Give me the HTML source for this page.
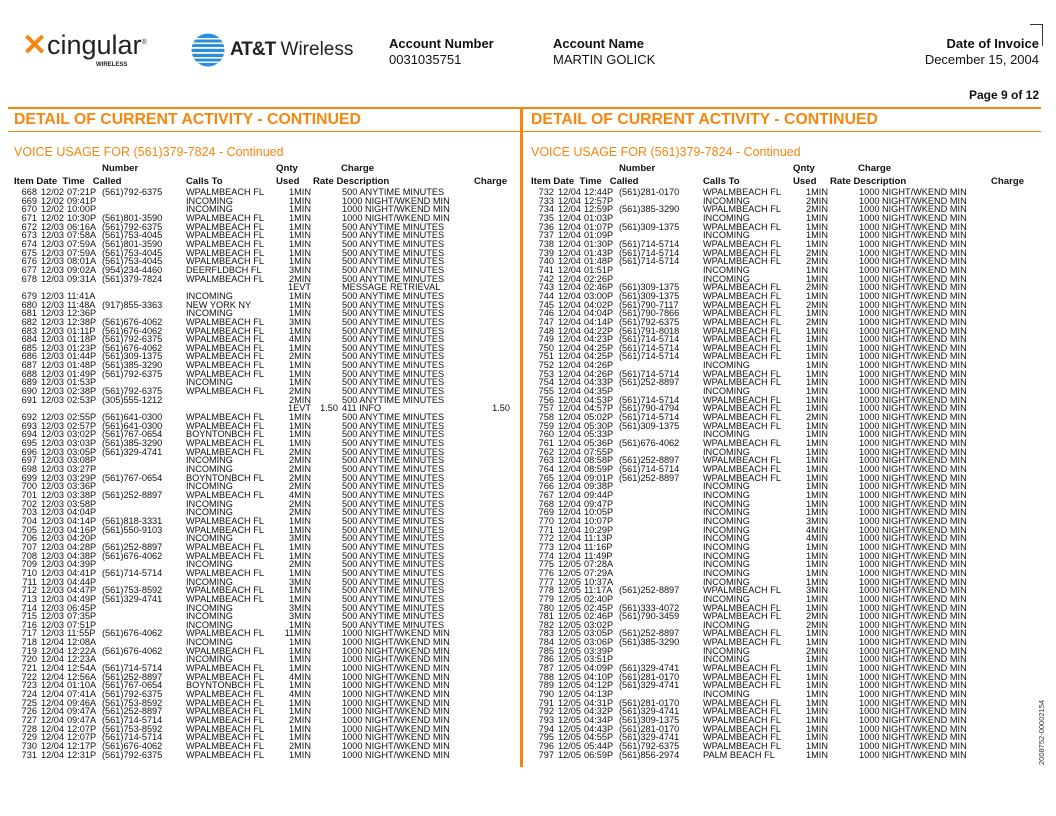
<!DOCTYPE html>
<html><head><meta charset="utf-8"><style>
*{margin:0;padding:0}
body{width:1056px;height:816px;background:#fff;position:relative;overflow:hidden;font-family:"Liberation Sans",sans-serif;color:#111}
.ab{position:absolute;white-space:nowrap}
.col{position:absolute;top:188px;width:515px}
.r{position:relative;height:8.66px;line-height:8.66px;font-size:9.2px;white-space:nowrap}
.r span{position:absolute;top:0}
.a{left:0;width:37px;text-align:right}
.d{left:41px}.t{left:67px}.n{left:102px}.c{left:186px}
.q{left:265px;width:46px;text-align:right}
.x{left:300px;width:38px;text-align:right}
.e{left:342px}
.g{left:460px;width:50px;text-align:right}
.h{position:absolute;font-weight:bold;font-size:9.6px;white-space:nowrap}
.or{color:#f7860e}
</style></head><body>
<div class="ab" style="left:22px;top:28px;font-size:30px;color:#f7860e;font-weight:bold">✕</div>
<div class="ab" style="left:47px;top:30px;font-size:27px;color:#222">cingular<sup style="font-size:7px">®</sup></div>
<div class="ab" style="left:96px;top:62px;font-size:6px;font-weight:bold;color:#222">WIRELESS</div>
<svg class="ab" style="left:191px;top:33px" width="34" height="34" viewBox="0 0 34 34">
<circle cx="17" cy="17" r="16.5" fill="#2a8ee0"/>
<g fill="#fff"><rect x="0" y="5" width="34" height="1.5"/><rect x="0" y="9.5" width="34" height="1.6"/><rect x="0" y="14" width="34" height="1.8"/><rect x="0" y="19" width="34" height="1.8"/><rect x="0" y="24" width="34" height="1.6"/><rect x="0" y="28.5" width="34" height="1.4"/></g></svg>
<div class="ab" style="left:230px;top:39px;font-size:19px;color:#222"><b style="letter-spacing:-1px">AT&amp;T</b> Wireless</div>
<div class="ab" style="left:389px;top:36px;font-size:13px;font-weight:bold">Account Number</div>
<div class="ab" style="left:389px;top:52px;font-size:13px">0031035751</div>
<div class="ab" style="left:553px;top:36px;font-size:13px;font-weight:bold">Account Name</div>
<div class="ab" style="left:553px;top:52px;font-size:13px">MARTIN GOLICK</div>
<div class="ab" style="right:17px;top:36px;font-size:13px;font-weight:bold;text-align:right">Date of Invoice</div>
<div class="ab" style="right:17px;top:52px;font-size:13px;text-align:right">December 15, 2004</div>
<div class="ab" style="left:1030px;top:24px;width:12px;height:1px;background:#333"></div>
<div class="ab" style="left:1042px;top:24px;width:1px;height:22px;background:#333"></div>
<div class="ab" style="right:17px;top:88px;font-size:12px;font-weight:bold">Page 9 of 12</div>
<div class="ab" style="left:8px;top:107px;width:1033px;height:2px;background:#f7860e"></div>
<div class="ab" style="left:8px;top:131px;width:1033px;height:1px;background:#f7860e"></div>
<div class="ab" style="left:520px;top:107px;width:3px;height:660px;background:#f7860e"></div>
<div class="ab or" style="left:14px;top:111px;font-size:15.8px;font-weight:bold">DETAIL OF CURRENT ACTIVITY - CONTINUED</div>
<div class="ab or" style="left:531px;top:111px;font-size:15.8px;font-weight:bold">DETAIL OF CURRENT ACTIVITY - CONTINUED</div>
<div class="ab or" style="left:14px;top:145px;font-size:12.5px">VOICE USAGE FOR (561)379-7824 - Continued</div>
<div class="ab or" style="left:531px;top:145px;font-size:12.5px">VOICE USAGE FOR (561)379-7824 - Continued</div>
<div class="ab" style="left:1037px;top:765px;font-size:7.5px;transform:rotate(-90deg);transform-origin:0 0;color:#333">2008752-00002154</div>

<div class="ab" style="left:0;top:163px;width:520px;height:30px">
<div class="h" style="left:102px;top:0">Number</div><div class="h" style="left:276px;top:0">Qnty</div><div class="h" style="left:341px;top:0">Charge</div>
<div class="h" style="left:14px;top:13px">Item Date&nbsp; Time&nbsp;&nbsp; Called</div><div class="h" style="left:186px;top:13px">Calls To</div><div class="h" style="left:276px;top:13px">Used</div><div class="h" style="left:313px;top:13px">Rate Description</div><div class="h" style="left:474px;top:13px">Charge</div>
</div>
<div class="ab" style="left:517px;top:163px;width:520px;height:30px">
<div class="h" style="left:102px;top:0">Number</div><div class="h" style="left:276px;top:0">Qnty</div><div class="h" style="left:341px;top:0">Charge</div>
<div class="h" style="left:14px;top:13px">Item Date&nbsp; Time&nbsp;&nbsp; Called</div><div class="h" style="left:186px;top:13px">Calls To</div><div class="h" style="left:276px;top:13px">Used</div><div class="h" style="left:313px;top:13px">Rate Description</div><div class="h" style="left:474px;top:13px">Charge</div>
</div>

<div class="col" style="left:0">
<div class="r"><span class="a">668</span><span class="d">12/02</span><span class="t">07:21P</span><span class="n">(561)792-6375</span><span class="c">WPALMBEACH FL</span><span class="q">1MIN</span><span class="e">500 ANYTIME MINUTES</span></div>
<div class="r"><span class="a">669</span><span class="d">12/02</span><span class="t">09:41P</span><span class="c">INCOMING</span><span class="q">1MIN</span><span class="e">1000 NIGHT/WKEND MIN</span></div>
<div class="r"><span class="a">670</span><span class="d">12/02</span><span class="t">10:00P</span><span class="c">INCOMING</span><span class="q">1MIN</span><span class="e">1000 NIGHT/WKEND MIN</span></div>
<div class="r"><span class="a">671</span><span class="d">12/02</span><span class="t">10:30P</span><span class="n">(561)801-3590</span><span class="c">WPALMBEACH FL</span><span class="q">1MIN</span><span class="e">1000 NIGHT/WKEND MIN</span></div>
<div class="r"><span class="a">672</span><span class="d">12/03</span><span class="t">06:16A</span><span class="n">(561)792-6375</span><span class="c">WPALMBEACH FL</span><span class="q">1MIN</span><span class="e">500 ANYTIME MINUTES</span></div>
<div class="r"><span class="a">673</span><span class="d">12/03</span><span class="t">07:58A</span><span class="n">(561)753-4045</span><span class="c">WPALMBEACH FL</span><span class="q">1MIN</span><span class="e">500 ANYTIME MINUTES</span></div>
<div class="r"><span class="a">674</span><span class="d">12/03</span><span class="t">07:59A</span><span class="n">(561)801-3590</span><span class="c">WPALMBEACH FL</span><span class="q">1MIN</span><span class="e">500 ANYTIME MINUTES</span></div>
<div class="r"><span class="a">675</span><span class="d">12/03</span><span class="t">07:59A</span><span class="n">(561)753-4045</span><span class="c">WPALMBEACH FL</span><span class="q">1MIN</span><span class="e">500 ANYTIME MINUTES</span></div>
<div class="r"><span class="a">676</span><span class="d">12/03</span><span class="t">08:01A</span><span class="n">(561)753-4045</span><span class="c">WPALMBEACH FL</span><span class="q">1MIN</span><span class="e">500 ANYTIME MINUTES</span></div>
<div class="r"><span class="a">677</span><span class="d">12/03</span><span class="t">09:02A</span><span class="n">(954)234-4460</span><span class="c">DEERFLDBCH FL</span><span class="q">3MIN</span><span class="e">500 ANYTIME MINUTES</span></div>
<div class="r"><span class="a">678</span><span class="d">12/03</span><span class="t">09:31A</span><span class="n">(561)379-7824</span><span class="c">WPALMBEACH FL</span><span class="q">2MIN</span><span class="e">500 ANYTIME MINUTES</span></div>
<div class="r"><span class="q">1EVT</span><span class="e">MESSAGE RETRIEVAL</span></div>
<div class="r"><span class="a">679</span><span class="d">12/03</span><span class="t">11:41A</span><span class="c">INCOMING</span><span class="q">1MIN</span><span class="e">500 ANYTIME MINUTES</span></div>
<div class="r"><span class="a">680</span><span class="d">12/03</span><span class="t">11:48A</span><span class="n">(917)855-3363</span><span class="c">NEW YORK NY</span><span class="q">1MIN</span><span class="e">500 ANYTIME MINUTES</span></div>
<div class="r"><span class="a">681</span><span class="d">12/03</span><span class="t">12:36P</span><span class="c">INCOMING</span><span class="q">1MIN</span><span class="e">500 ANYTIME MINUTES</span></div>
<div class="r"><span class="a">682</span><span class="d">12/03</span><span class="t">12:38P</span><span class="n">(561)676-4062</span><span class="c">WPALMBEACH FL</span><span class="q">3MIN</span><span class="e">500 ANYTIME MINUTES</span></div>
<div class="r"><span class="a">683</span><span class="d">12/03</span><span class="t">01:11P</span><span class="n">(561)676-4062</span><span class="c">WPALMBEACH FL</span><span class="q">1MIN</span><span class="e">500 ANYTIME MINUTES</span></div>
<div class="r"><span class="a">684</span><span class="d">12/03</span><span class="t">01:18P</span><span class="n">(561)792-6375</span><span class="c">WPALMBEACH FL</span><span class="q">4MIN</span><span class="e">500 ANYTIME MINUTES</span></div>
<div class="r"><span class="a">685</span><span class="d">12/03</span><span class="t">01:23P</span><span class="n">(561)676-4062</span><span class="c">WPALMBEACH FL</span><span class="q">1MIN</span><span class="e">500 ANYTIME MINUTES</span></div>
<div class="r"><span class="a">686</span><span class="d">12/03</span><span class="t">01:44P</span><span class="n">(561)309-1375</span><span class="c">WPALMBEACH FL</span><span class="q">2MIN</span><span class="e">500 ANYTIME MINUTES</span></div>
<div class="r"><span class="a">687</span><span class="d">12/03</span><span class="t">01:48P</span><span class="n">(561)385-3290</span><span class="c">WPALMBEACH FL</span><span class="q">1MIN</span><span class="e">500 ANYTIME MINUTES</span></div>
<div class="r"><span class="a">688</span><span class="d">12/03</span><span class="t">01:49P</span><span class="n">(561)792-6375</span><span class="c">WPALMBEACH FL</span><span class="q">1MIN</span><span class="e">500 ANYTIME MINUTES</span></div>
<div class="r"><span class="a">689</span><span class="d">12/03</span><span class="t">01:53P</span><span class="c">INCOMING</span><span class="q">1MIN</span><span class="e">500 ANYTIME MINUTES</span></div>
<div class="r"><span class="a">690</span><span class="d">12/03</span><span class="t">02:38P</span><span class="n">(561)792-6375</span><span class="c">WPALMBEACH FL</span><span class="q">2MIN</span><span class="e">500 ANYTIME MINUTES</span></div>
<div class="r"><span class="a">691</span><span class="d">12/03</span><span class="t">02:53P</span><span class="n">(305)555-1212</span><span class="q">2MIN</span><span class="e">500 ANYTIME MINUTES</span></div>
<div class="r"><span class="q">1EVT</span><span class="x">1.50</span><span class="e">411 INFO</span><span class="g">1.50</span></div>
<div class="r"><span class="a">692</span><span class="d">12/03</span><span class="t">02:55P</span><span class="n">(561)641-0300</span><span class="c">WPALMBEACH FL</span><span class="q">1MIN</span><span class="e">500 ANYTIME MINUTES</span></div>
<div class="r"><span class="a">693</span><span class="d">12/03</span><span class="t">02:57P</span><span class="n">(561)641-0300</span><span class="c">WPALMBEACH FL</span><span class="q">1MIN</span><span class="e">500 ANYTIME MINUTES</span></div>
<div class="r"><span class="a">694</span><span class="d">12/03</span><span class="t">03:02P</span><span class="n">(561)767-0654</span><span class="c">BOYNTONBCH FL</span><span class="q">1MIN</span><span class="e">500 ANYTIME MINUTES</span></div>
<div class="r"><span class="a">695</span><span class="d">12/03</span><span class="t">03:03P</span><span class="n">(561)385-3290</span><span class="c">WPALMBEACH FL</span><span class="q">1MIN</span><span class="e">500 ANYTIME MINUTES</span></div>
<div class="r"><span class="a">696</span><span class="d">12/03</span><span class="t">03:05P</span><span class="n">(561)329-4741</span><span class="c">WPALMBEACH FL</span><span class="q">2MIN</span><span class="e">500 ANYTIME MINUTES</span></div>
<div class="r"><span class="a">697</span><span class="d">12/03</span><span class="t">03:08P</span><span class="c">INCOMING</span><span class="q">2MIN</span><span class="e">500 ANYTIME MINUTES</span></div>
<div class="r"><span class="a">698</span><span class="d">12/03</span><span class="t">03:27P</span><span class="c">INCOMING</span><span class="q">2MIN</span><span class="e">500 ANYTIME MINUTES</span></div>
<div class="r"><span class="a">699</span><span class="d">12/03</span><span class="t">03:29P</span><span class="n">(561)767-0654</span><span class="c">BOYNTONBCH FL</span><span class="q">2MIN</span><span class="e">500 ANYTIME MINUTES</span></div>
<div class="r"><span class="a">700</span><span class="d">12/03</span><span class="t">03:36P</span><span class="c">INCOMING</span><span class="q">2MIN</span><span class="e">500 ANYTIME MINUTES</span></div>
<div class="r"><span class="a">701</span><span class="d">12/03</span><span class="t">03:38P</span><span class="n">(561)252-8897</span><span class="c">WPALMBEACH FL</span><span class="q">4MIN</span><span class="e">500 ANYTIME MINUTES</span></div>
<div class="r"><span class="a">702</span><span class="d">12/03</span><span class="t">03:58P</span><span class="c">INCOMING</span><span class="q">2MIN</span><span class="e">500 ANYTIME MINUTES</span></div>
<div class="r"><span class="a">703</span><span class="d">12/03</span><span class="t">04:04P</span><span class="c">INCOMING</span><span class="q">2MIN</span><span class="e">500 ANYTIME MINUTES</span></div>
<div class="r"><span class="a">704</span><span class="d">12/03</span><span class="t">04:14P</span><span class="n">(561)818-3331</span><span class="c">WPALMBEACH FL</span><span class="q">1MIN</span><span class="e">500 ANYTIME MINUTES</span></div>
<div class="r"><span class="a">705</span><span class="d">12/03</span><span class="t">04:16P</span><span class="n">(561)550-9103</span><span class="c">WPALMBEACH FL</span><span class="q">1MIN</span><span class="e">500 ANYTIME MINUTES</span></div>
<div class="r"><span class="a">706</span><span class="d">12/03</span><span class="t">04:20P</span><span class="c">INCOMING</span><span class="q">3MIN</span><span class="e">500 ANYTIME MINUTES</span></div>
<div class="r"><span class="a">707</span><span class="d">12/03</span><span class="t">04:28P</span><span class="n">(561)252-8897</span><span class="c">WPALMBEACH FL</span><span class="q">1MIN</span><span class="e">500 ANYTIME MINUTES</span></div>
<div class="r"><span class="a">708</span><span class="d">12/03</span><span class="t">04:38P</span><span class="n">(561)676-4062</span><span class="c">WPALMBEACH FL</span><span class="q">1MIN</span><span class="e">500 ANYTIME MINUTES</span></div>
<div class="r"><span class="a">709</span><span class="d">12/03</span><span class="t">04:39P</span><span class="c">INCOMING</span><span class="q">2MIN</span><span class="e">500 ANYTIME MINUTES</span></div>
<div class="r"><span class="a">710</span><span class="d">12/03</span><span class="t">04:41P</span><span class="n">(561)714-5714</span><span class="c">WPALMBEACH FL</span><span class="q">1MIN</span><span class="e">500 ANYTIME MINUTES</span></div>
<div class="r"><span class="a">711</span><span class="d">12/03</span><span class="t">04:44P</span><span class="c">INCOMING</span><span class="q">3MIN</span><span class="e">500 ANYTIME MINUTES</span></div>
<div class="r"><span class="a">712</span><span class="d">12/03</span><span class="t">04:47P</span><span class="n">(561)753-8592</span><span class="c">WPALMBEACH FL</span><span class="q">1MIN</span><span class="e">500 ANYTIME MINUTES</span></div>
<div class="r"><span class="a">713</span><span class="d">12/03</span><span class="t">04:49P</span><span class="n">(561)329-4741</span><span class="c">WPALMBEACH FL</span><span class="q">1MIN</span><span class="e">500 ANYTIME MINUTES</span></div>
<div class="r"><span class="a">714</span><span class="d">12/03</span><span class="t">06:45P</span><span class="c">INCOMING</span><span class="q">3MIN</span><span class="e">500 ANYTIME MINUTES</span></div>
<div class="r"><span class="a">715</span><span class="d">12/03</span><span class="t">07:35P</span><span class="c">INCOMING</span><span class="q">3MIN</span><span class="e">500 ANYTIME MINUTES</span></div>
<div class="r"><span class="a">716</span><span class="d">12/03</span><span class="t">07:51P</span><span class="c">INCOMING</span><span class="q">1MIN</span><span class="e">500 ANYTIME MINUTES</span></div>
<div class="r"><span class="a">717</span><span class="d">12/03</span><span class="t">11:55P</span><span class="n">(561)676-4062</span><span class="c">WPALMBEACH FL</span><span class="q">11MIN</span><span class="e">1000 NIGHT/WKEND MIN</span></div>
<div class="r"><span class="a">718</span><span class="d">12/04</span><span class="t">12:08A</span><span class="c">INCOMING</span><span class="q">1MIN</span><span class="e">1000 NIGHT/WKEND MIN</span></div>
<div class="r"><span class="a">719</span><span class="d">12/04</span><span class="t">12:22A</span><span class="n">(561)676-4062</span><span class="c">WPALMBEACH FL</span><span class="q">1MIN</span><span class="e">1000 NIGHT/WKEND MIN</span></div>
<div class="r"><span class="a">720</span><span class="d">12/04</span><span class="t">12:23A</span><span class="c">INCOMING</span><span class="q">1MIN</span><span class="e">1000 NIGHT/WKEND MIN</span></div>
<div class="r"><span class="a">721</span><span class="d">12/04</span><span class="t">12:54A</span><span class="n">(561)714-5714</span><span class="c">WPALMBEACH FL</span><span class="q">1MIN</span><span class="e">1000 NIGHT/WKEND MIN</span></div>
<div class="r"><span class="a">722</span><span class="d">12/04</span><span class="t">12:56A</span><span class="n">(561)252-8897</span><span class="c">WPALMBEACH FL</span><span class="q">4MIN</span><span class="e">1000 NIGHT/WKEND MIN</span></div>
<div class="r"><span class="a">723</span><span class="d">12/04</span><span class="t">01:10A</span><span class="n">(561)767-0654</span><span class="c">BOYNTONBCH FL</span><span class="q">1MIN</span><span class="e">1000 NIGHT/WKEND MIN</span></div>
<div class="r"><span class="a">724</span><span class="d">12/04</span><span class="t">07:41A</span><span class="n">(561)792-6375</span><span class="c">WPALMBEACH FL</span><span class="q">4MIN</span><span class="e">1000 NIGHT/WKEND MIN</span></div>
<div class="r"><span class="a">725</span><span class="d">12/04</span><span class="t">09:46A</span><span class="n">(561)753-8592</span><span class="c">WPALMBEACH FL</span><span class="q">1MIN</span><span class="e">1000 NIGHT/WKEND MIN</span></div>
<div class="r"><span class="a">726</span><span class="d">12/04</span><span class="t">09:47A</span><span class="n">(561)252-8897</span><span class="c">WPALMBEACH FL</span><span class="q">1MIN</span><span class="e">1000 NIGHT/WKEND MIN</span></div>
<div class="r"><span class="a">727</span><span class="d">12/04</span><span class="t">09:47A</span><span class="n">(561)714-5714</span><span class="c">WPALMBEACH FL</span><span class="q">2MIN</span><span class="e">1000 NIGHT/WKEND MIN</span></div>
<div class="r"><span class="a">728</span><span class="d">12/04</span><span class="t">12:07P</span><span class="n">(561)753-8592</span><span class="c">WPALMBEACH FL</span><span class="q">1MIN</span><span class="e">1000 NIGHT/WKEND MIN</span></div>
<div class="r"><span class="a">729</span><span class="d">12/04</span><span class="t">12:07P</span><span class="n">(561)714-5714</span><span class="c">WPALMBEACH FL</span><span class="q">1MIN</span><span class="e">1000 NIGHT/WKEND MIN</span></div>
<div class="r"><span class="a">730</span><span class="d">12/04</span><span class="t">12:17P</span><span class="n">(561)676-4062</span><span class="c">WPALMBEACH FL</span><span class="q">2MIN</span><span class="e">1000 NIGHT/WKEND MIN</span></div>
<div class="r"><span class="a">731</span><span class="d">12/04</span><span class="t">12:31P</span><span class="n">(561)792-6375</span><span class="c">WPALMBEACH FL</span><span class="q">1MIN</span><span class="e">1000 NIGHT/WKEND MIN</span></div>
</div>

<div class="col" style="left:517px">
<div class="r"><span class="a">732</span><span class="d">12/04</span><span class="t">12:44P</span><span class="n">(561)281-0170</span><span class="c">WPALMBEACH FL</span><span class="q">1MIN</span><span class="e">1000 NIGHT/WKEND MIN</span></div>
<div class="r"><span class="a">733</span><span class="d">12/04</span><span class="t">12:57P</span><span class="c">INCOMING</span><span class="q">2MIN</span><span class="e">1000 NIGHT/WKEND MIN</span></div>
<div class="r"><span class="a">734</span><span class="d">12/04</span><span class="t">12:59P</span><span class="n">(561)385-3290</span><span class="c">WPALMBEACH FL</span><span class="q">2MIN</span><span class="e">1000 NIGHT/WKEND MIN</span></div>
<div class="r"><span class="a">735</span><span class="d">12/04</span><span class="t">01:03P</span><span class="c">INCOMING</span><span class="q">1MIN</span><span class="e">1000 NIGHT/WKEND MIN</span></div>
<div class="r"><span class="a">736</span><span class="d">12/04</span><span class="t">01:07P</span><span class="n">(561)309-1375</span><span class="c">WPALMBEACH FL</span><span class="q">1MIN</span><span class="e">1000 NIGHT/WKEND MIN</span></div>
<div class="r"><span class="a">737</span><span class="d">12/04</span><span class="t">01:09P</span><span class="c">INCOMING</span><span class="q">1MIN</span><span class="e">1000 NIGHT/WKEND MIN</span></div>
<div class="r"><span class="a">738</span><span class="d">12/04</span><span class="t">01:30P</span><span class="n">(561)714-5714</span><span class="c">WPALMBEACH FL</span><span class="q">1MIN</span><span class="e">1000 NIGHT/WKEND MIN</span></div>
<div class="r"><span class="a">739</span><span class="d">12/04</span><span class="t">01:43P</span><span class="n">(561)714-5714</span><span class="c">WPALMBEACH FL</span><span class="q">2MIN</span><span class="e">1000 NIGHT/WKEND MIN</span></div>
<div class="r"><span class="a">740</span><span class="d">12/04</span><span class="t">01:48P</span><span class="n">(561)714-5714</span><span class="c">WPALMBEACH FL</span><span class="q">2MIN</span><span class="e">1000 NIGHT/WKEND MIN</span></div>
<div class="r"><span class="a">741</span><span class="d">12/04</span><span class="t">01:51P</span><span class="c">INCOMING</span><span class="q">1MIN</span><span class="e">1000 NIGHT/WKEND MIN</span></div>
<div class="r"><span class="a">742</span><span class="d">12/04</span><span class="t">02:26P</span><span class="c">INCOMING</span><span class="q">1MIN</span><span class="e">1000 NIGHT/WKEND MIN</span></div>
<div class="r"><span class="a">743</span><span class="d">12/04</span><span class="t">02:46P</span><span class="n">(561)309-1375</span><span class="c">WPALMBEACH FL</span><span class="q">2MIN</span><span class="e">1000 NIGHT/WKEND MIN</span></div>
<div class="r"><span class="a">744</span><span class="d">12/04</span><span class="t">03:00P</span><span class="n">(561)309-1375</span><span class="c">WPALMBEACH FL</span><span class="q">1MIN</span><span class="e">1000 NIGHT/WKEND MIN</span></div>
<div class="r"><span class="a">745</span><span class="d">12/04</span><span class="t">04:02P</span><span class="n">(561)790-7117</span><span class="c">WPALMBEACH FL</span><span class="q">2MIN</span><span class="e">1000 NIGHT/WKEND MIN</span></div>
<div class="r"><span class="a">746</span><span class="d">12/04</span><span class="t">04:04P</span><span class="n">(561)790-7866</span><span class="c">WPALMBEACH FL</span><span class="q">1MIN</span><span class="e">1000 NIGHT/WKEND MIN</span></div>
<div class="r"><span class="a">747</span><span class="d">12/04</span><span class="t">04:14P</span><span class="n">(561)792-6375</span><span class="c">WPALMBEACH FL</span><span class="q">2MIN</span><span class="e">1000 NIGHT/WKEND MIN</span></div>
<div class="r"><span class="a">748</span><span class="d">12/04</span><span class="t">04:22P</span><span class="n">(561)791-8018</span><span class="c">WPALMBEACH FL</span><span class="q">1MIN</span><span class="e">1000 NIGHT/WKEND MIN</span></div>
<div class="r"><span class="a">749</span><span class="d">12/04</span><span class="t">04:23P</span><span class="n">(561)714-5714</span><span class="c">WPALMBEACH FL</span><span class="q">1MIN</span><span class="e">1000 NIGHT/WKEND MIN</span></div>
<div class="r"><span class="a">750</span><span class="d">12/04</span><span class="t">04:25P</span><span class="n">(561)714-5714</span><span class="c">WPALMBEACH FL</span><span class="q">1MIN</span><span class="e">1000 NIGHT/WKEND MIN</span></div>
<div class="r"><span class="a">751</span><span class="d">12/04</span><span class="t">04:25P</span><span class="n">(561)714-5714</span><span class="c">WPALMBEACH FL</span><span class="q">1MIN</span><span class="e">1000 NIGHT/WKEND MIN</span></div>
<div class="r"><span class="a">752</span><span class="d">12/04</span><span class="t">04:26P</span><span class="c">INCOMING</span><span class="q">1MIN</span><span class="e">1000 NIGHT/WKEND MIN</span></div>
<div class="r"><span class="a">753</span><span class="d">12/04</span><span class="t">04:26P</span><span class="n">(561)714-5714</span><span class="c">WPALMBEACH FL</span><span class="q">1MIN</span><span class="e">1000 NIGHT/WKEND MIN</span></div>
<div class="r"><span class="a">754</span><span class="d">12/04</span><span class="t">04:33P</span><span class="n">(561)252-8897</span><span class="c">WPALMBEACH FL</span><span class="q">1MIN</span><span class="e">1000 NIGHT/WKEND MIN</span></div>
<div class="r"><span class="a">755</span><span class="d">12/04</span><span class="t">04:35P</span><span class="c">INCOMING</span><span class="q">1MIN</span><span class="e">1000 NIGHT/WKEND MIN</span></div>
<div class="r"><span class="a">756</span><span class="d">12/04</span><span class="t">04:53P</span><span class="n">(561)714-5714</span><span class="c">WPALMBEACH FL</span><span class="q">1MIN</span><span class="e">1000 NIGHT/WKEND MIN</span></div>
<div class="r"><span class="a">757</span><span class="d">12/04</span><span class="t">04:57P</span><span class="n">(561)790-4794</span><span class="c">WPALMBEACH FL</span><span class="q">1MIN</span><span class="e">1000 NIGHT/WKEND MIN</span></div>
<div class="r"><span class="a">758</span><span class="d">12/04</span><span class="t">05:02P</span><span class="n">(561)714-5714</span><span class="c">WPALMBEACH FL</span><span class="q">2MIN</span><span class="e">1000 NIGHT/WKEND MIN</span></div>
<div class="r"><span class="a">759</span><span class="d">12/04</span><span class="t">05:30P</span><span class="n">(561)309-1375</span><span class="c">WPALMBEACH FL</span><span class="q">1MIN</span><span class="e">1000 NIGHT/WKEND MIN</span></div>
<div class="r"><span class="a">760</span><span class="d">12/04</span><span class="t">05:33P</span><span class="c">INCOMING</span><span class="q">1MIN</span><span class="e">1000 NIGHT/WKEND MIN</span></div>
<div class="r"><span class="a">761</span><span class="d">12/04</span><span class="t">05:36P</span><span class="n">(561)676-4062</span><span class="c">WPALMBEACH FL</span><span class="q">1MIN</span><span class="e">1000 NIGHT/WKEND MIN</span></div>
<div class="r"><span class="a">762</span><span class="d">12/04</span><span class="t">07:55P</span><span class="c">INCOMING</span><span class="q">1MIN</span><span class="e">1000 NIGHT/WKEND MIN</span></div>
<div class="r"><span class="a">763</span><span class="d">12/04</span><span class="t">08:58P</span><span class="n">(561)252-8897</span><span class="c">WPALMBEACH FL</span><span class="q">1MIN</span><span class="e">1000 NIGHT/WKEND MIN</span></div>
<div class="r"><span class="a">764</span><span class="d">12/04</span><span class="t">08:59P</span><span class="n">(561)714-5714</span><span class="c">WPALMBEACH FL</span><span class="q">1MIN</span><span class="e">1000 NIGHT/WKEND MIN</span></div>
<div class="r"><span class="a">765</span><span class="d">12/04</span><span class="t">09:01P</span><span class="n">(561)252-8897</span><span class="c">WPALMBEACH FL</span><span class="q">1MIN</span><span class="e">1000 NIGHT/WKEND MIN</span></div>
<div class="r"><span class="a">766</span><span class="d">12/04</span><span class="t">09:38P</span><span class="c">INCOMING</span><span class="q">1MIN</span><span class="e">1000 NIGHT/WKEND MIN</span></div>
<div class="r"><span class="a">767</span><span class="d">12/04</span><span class="t">09:44P</span><span class="c">INCOMING</span><span class="q">1MIN</span><span class="e">1000 NIGHT/WKEND MIN</span></div>
<div class="r"><span class="a">768</span><span class="d">12/04</span><span class="t">09:47P</span><span class="c">INCOMING</span><span class="q">1MIN</span><span class="e">1000 NIGHT/WKEND MIN</span></div>
<div class="r"><span class="a">769</span><span class="d">12/04</span><span class="t">10:05P</span><span class="c">INCOMING</span><span class="q">1MIN</span><span class="e">1000 NIGHT/WKEND MIN</span></div>
<div class="r"><span class="a">770</span><span class="d">12/04</span><span class="t">10:07P</span><span class="c">INCOMING</span><span class="q">3MIN</span><span class="e">1000 NIGHT/WKEND MIN</span></div>
<div class="r"><span class="a">771</span><span class="d">12/04</span><span class="t">10:29P</span><span class="c">INCOMING</span><span class="q">4MIN</span><span class="e">1000 NIGHT/WKEND MIN</span></div>
<div class="r"><span class="a">772</span><span class="d">12/04</span><span class="t">11:13P</span><span class="c">INCOMING</span><span class="q">4MIN</span><span class="e">1000 NIGHT/WKEND MIN</span></div>
<div class="r"><span class="a">773</span><span class="d">12/04</span><span class="t">11:16P</span><span class="c">INCOMING</span><span class="q">1MIN</span><span class="e">1000 NIGHT/WKEND MIN</span></div>
<div class="r"><span class="a">774</span><span class="d">12/04</span><span class="t">11:49P</span><span class="c">INCOMING</span><span class="q">1MIN</span><span class="e">1000 NIGHT/WKEND MIN</span></div>
<div class="r"><span class="a">775</span><span class="d">12/05</span><span class="t">07:28A</span><span class="c">INCOMING</span><span class="q">1MIN</span><span class="e">1000 NIGHT/WKEND MIN</span></div>
<div class="r"><span class="a">776</span><span class="d">12/05</span><span class="t">07:29A</span><span class="c">INCOMING</span><span class="q">1MIN</span><span class="e">1000 NIGHT/WKEND MIN</span></div>
<div class="r"><span class="a">777</span><span class="d">12/05</span><span class="t">10:37A</span><span class="c">INCOMING</span><span class="q">1MIN</span><span class="e">1000 NIGHT/WKEND MIN</span></div>
<div class="r"><span class="a">778</span><span class="d">12/05</span><span class="t">11:17A</span><span class="n">(561)252-8897</span><span class="c">WPALMBEACH FL</span><span class="q">3MIN</span><span class="e">1000 NIGHT/WKEND MIN</span></div>
<div class="r"><span class="a">779</span><span class="d">12/05</span><span class="t">02:40P</span><span class="c">INCOMING</span><span class="q">1MIN</span><span class="e">1000 NIGHT/WKEND MIN</span></div>
<div class="r"><span class="a">780</span><span class="d">12/05</span><span class="t">02:45P</span><span class="n">(561)333-4072</span><span class="c">WPALMBEACH FL</span><span class="q">1MIN</span><span class="e">1000 NIGHT/WKEND MIN</span></div>
<div class="r"><span class="a">781</span><span class="d">12/05</span><span class="t">02:46P</span><span class="n">(561)790-3459</span><span class="c">WPALMBEACH FL</span><span class="q">2MIN</span><span class="e">1000 NIGHT/WKEND MIN</span></div>
<div class="r"><span class="a">782</span><span class="d">12/05</span><span class="t">03:02P</span><span class="c">INCOMING</span><span class="q">2MIN</span><span class="e">1000 NIGHT/WKEND MIN</span></div>
<div class="r"><span class="a">783</span><span class="d">12/05</span><span class="t">03:05P</span><span class="n">(561)252-8897</span><span class="c">WPALMBEACH FL</span><span class="q">1MIN</span><span class="e">1000 NIGHT/WKEND MIN</span></div>
<div class="r"><span class="a">784</span><span class="d">12/05</span><span class="t">03:06P</span><span class="n">(561)385-3290</span><span class="c">WPALMBEACH FL</span><span class="q">1MIN</span><span class="e">1000 NIGHT/WKEND MIN</span></div>
<div class="r"><span class="a">785</span><span class="d">12/05</span><span class="t">03:39P</span><span class="c">INCOMING</span><span class="q">2MIN</span><span class="e">1000 NIGHT/WKEND MIN</span></div>
<div class="r"><span class="a">786</span><span class="d">12/05</span><span class="t">03:51P</span><span class="c">INCOMING</span><span class="q">1MIN</span><span class="e">1000 NIGHT/WKEND MIN</span></div>
<div class="r"><span class="a">787</span><span class="d">12/05</span><span class="t">04:09P</span><span class="n">(561)329-4741</span><span class="c">WPALMBEACH FL</span><span class="q">1MIN</span><span class="e">1000 NIGHT/WKEND MIN</span></div>
<div class="r"><span class="a">788</span><span class="d">12/05</span><span class="t">04:10P</span><span class="n">(561)281-0170</span><span class="c">WPALMBEACH FL</span><span class="q">1MIN</span><span class="e">1000 NIGHT/WKEND MIN</span></div>
<div class="r"><span class="a">789</span><span class="d">12/05</span><span class="t">04:12P</span><span class="n">(561)329-4741</span><span class="c">WPALMBEACH FL</span><span class="q">1MIN</span><span class="e">1000 NIGHT/WKEND MIN</span></div>
<div class="r"><span class="a">790</span><span class="d">12/05</span><span class="t">04:13P</span><span class="c">INCOMING</span><span class="q">1MIN</span><span class="e">1000 NIGHT/WKEND MIN</span></div>
<div class="r"><span class="a">791</span><span class="d">12/05</span><span class="t">04:31P</span><span class="n">(561)281-0170</span><span class="c">WPALMBEACH FL</span><span class="q">1MIN</span><span class="e">1000 NIGHT/WKEND MIN</span></div>
<div class="r"><span class="a">792</span><span class="d">12/05</span><span class="t">04:32P</span><span class="n">(561)329-4741</span><span class="c">WPALMBEACH FL</span><span class="q">1MIN</span><span class="e">1000 NIGHT/WKEND MIN</span></div>
<div class="r"><span class="a">793</span><span class="d">12/05</span><span class="t">04:34P</span><span class="n">(561)309-1375</span><span class="c">WPALMBEACH FL</span><span class="q">1MIN</span><span class="e">1000 NIGHT/WKEND MIN</span></div>
<div class="r"><span class="a">794</span><span class="d">12/05</span><span class="t">04:43P</span><span class="n">(561)281-0170</span><span class="c">WPALMBEACH FL</span><span class="q">1MIN</span><span class="e">1000 NIGHT/WKEND MIN</span></div>
<div class="r"><span class="a">795</span><span class="d">12/05</span><span class="t">04:55P</span><span class="n">(561)329-4741</span><span class="c">WPALMBEACH FL</span><span class="q">1MIN</span><span class="e">1000 NIGHT/WKEND MIN</span></div>
<div class="r"><span class="a">796</span><span class="d">12/05</span><span class="t">05:44P</span><span class="n">(561)792-6375</span><span class="c">WPALMBEACH FL</span><span class="q">1MIN</span><span class="e">1000 NIGHT/WKEND MIN</span></div>
<div class="r"><span class="a">797</span><span class="d">12/05</span><span class="t">06:59P</span><span class="n">(561)856-2974</span><span class="c">PALM BEACH FL</span><span class="q">1MIN</span><span class="e">1000 NIGHT/WKEND MIN</span></div>
</div>
</body></html>
